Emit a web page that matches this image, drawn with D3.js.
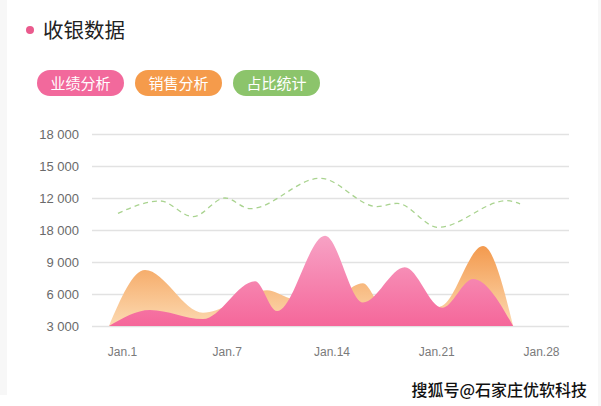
<!DOCTYPE html>
<html><head><meta charset="utf-8">
<script src="https://cdn.jsdelivr.net/npm/d3@7"></script>
<style>
html,body{margin:0;padding:0;background:#fff;}
svg{display:block;}
</style></head>
<body>
<script>
// ---- data ----
const title = "收银数据";
const tabs = ["业绩分析", "销售分析", "占比统计"];
const tabColors = ["#F2699C", "#F59B4B", "#8CC46B"];
const yTickValues = [3000, 6000, 9000, 12000, 15000, 18000, 21000];
const yTickLabels = ["3 000", "6 000", "9 000", "18 000", "12 000", "15 000", "18 000"];
const xTickValues = [0, 7, 14, 21, 28];
const xTickLabels = ["Jan.1", "Jan.7", "Jan.14", "Jan.21", "Jan.28"];
// sales (orange) area
const orangeX = [-0.87, 1.54, 5.41, 9.69, 11.2, 13.5, 16.1, 17.3, 19.5, 21.4, 24.13, 26.14];
const orangeV = [3000, 8250, 4250, 6350, 5600, 5000, 7000, 5000, 4300, 4900, 10500, 3000];
// performance (pink) area
const pinkX = [-0.87, 1.87, 5.41, 8.89, 10.36, 13.57, 16.1, 18.9, 21.4, 23.46, 26.14];
const pinkV = [3000, 4500, 3650, 7200, 4400, 11450, 5200, 8500, 4700, 7400, 3000];
// ratio (green dashed) line
const greenX = [-0.27, 2.54, 4.75, 6.88, 8.56, 13.24, 17.05, 18.38, 21.12, 25.73, 26.6];
const greenV = [13566, 14720, 13250, 15000, 14000, 16850, 14190, 14500, 12250, 14750, 14440];
const watermark = "搜狐号@石家庄优软科技";

const W = 601, H = 406;
const svg = d3.select("body").append("svg").attr("width", W).attr("height", H);
const cjk = "'Noto Sans CJK SC','Noto Sans',sans-serif";
const latin = "'Liberation Sans',Arial,sans-serif";

// faint card edges
svg.append("rect").attr("x", 0).attr("y", 0).attr("width", 7).attr("height", 395).attr("fill", "#f7f7f7");
svg.append("rect").attr("x", 598).attr("y", 0).attr("width", 3).attr("height", 406).attr("fill", "#f7f7f7");

// title
svg.append("circle").attr("cx", 30).attr("cy", 30).attr("r", 4).attr("fill", "#EA5A8D");
svg.append("text").attr("x", 43).attr("y", 37.5).text(title)
  .attr("font-family", cjk).attr("font-size", 20.5).attr("font-weight", 400).attr("fill", "#222");

// tabs
const tabX = [37, 135, 233];
tabs.forEach((t, i) => {
  const g = svg.append("g").attr("transform", `translate(${tabX[i]},70)`);
  g.append("rect").attr("width", 87).attr("height", 26).attr("rx", 13).attr("fill", tabColors[i]);
  g.append("text").attr("x", 43.5).attr("y", 18.5).attr("text-anchor", "middle").text(t)
    .attr("font-family", cjk).attr("font-size", 15).attr("fill", "#fff");
});

// scales
const x = d3.scaleLinear().domain([0, 28]).range([122, 541]);
const y = d3.scaleLinear().domain([3000, 21000]).range([326, 134]);
const gridL = 92, gridR = 569;

// y axis + grid
const yAxis = d3.axisLeft(y).tickValues(yTickValues)
  .tickFormat((d, i) => yTickLabels[i]).tickSize(-(gridR - gridL)).tickPadding(13);
const gy = svg.append("g").attr("transform", `translate(${gridL},0)`).call(yAxis);
gy.select(".domain").remove();
gy.selectAll("line").attr("stroke", "#e2e2e2").attr("stroke-width", 1.5);
gy.selectAll("text").attr("font-family", latin).attr("font-size", 13).attr("fill", "#6a6a6a");

// x axis
const xAxis = d3.axisBottom(x).tickValues(xTickValues).tickFormat((d, i) => xTickLabels[i]).tickSize(0).tickPadding(21);
const gx = svg.append("g").attr("transform", `translate(0,326)`).call(xAxis);
gx.select(".domain").remove();
gx.selectAll("text").attr("font-family", latin).attr("font-size", 12).attr("fill", "#7a7a7a");

// gradients
const defs = svg.append("defs");
function grad(id, y1, y2, c1, c2) {
  const g = defs.append("linearGradient").attr("id", id).attr("gradientUnits", "userSpaceOnUse")
    .attr("x1", 0).attr("x2", 0).attr("y1", y1).attr("y2", y2);
  g.append("stop").attr("offset", 0).attr("stop-color", c1);
  g.append("stop").attr("offset", 1).attr("stop-color", c2);
}
grad("gOrange", y(10500), y(3000), "#F39A4E", "#FCDAB2");
grad("gPink", y(11450), y(3000), "#F7A2C5", "#F5679A");

const area = d3.area().x(d => x(d[0])).y0(y(3000)).y1(d => y(d[1])).curve(d3.curveMonotoneX);
const line = d3.line().x(d => x(d[0])).y(d => y(d[1])).curve(d3.curveMonotoneX);

svg.append("path").datum(orangeX.map((d, i) => [d, orangeV[i]])).attr("d", area).attr("fill", "url(#gOrange)");
svg.append("path").datum(pinkX.map((d, i) => [d, pinkV[i]])).attr("d", area).attr("fill", "url(#gPink)");
svg.append("path").datum(greenX.map((d, i) => [d, greenV[i]])).attr("d", line)
  .attr("fill", "none").attr("stroke", "#A9D38F").attr("stroke-width", 1.3).attr("stroke-dasharray", "5,4");

// watermark
svg.append("text").attr("x", 587).attr("y", 396).attr("text-anchor", "end").text(watermark)
  .attr("font-family", cjk).attr("font-size", 16).attr("font-weight", 500).attr("fill", "#111");
</script>
</body></html>
